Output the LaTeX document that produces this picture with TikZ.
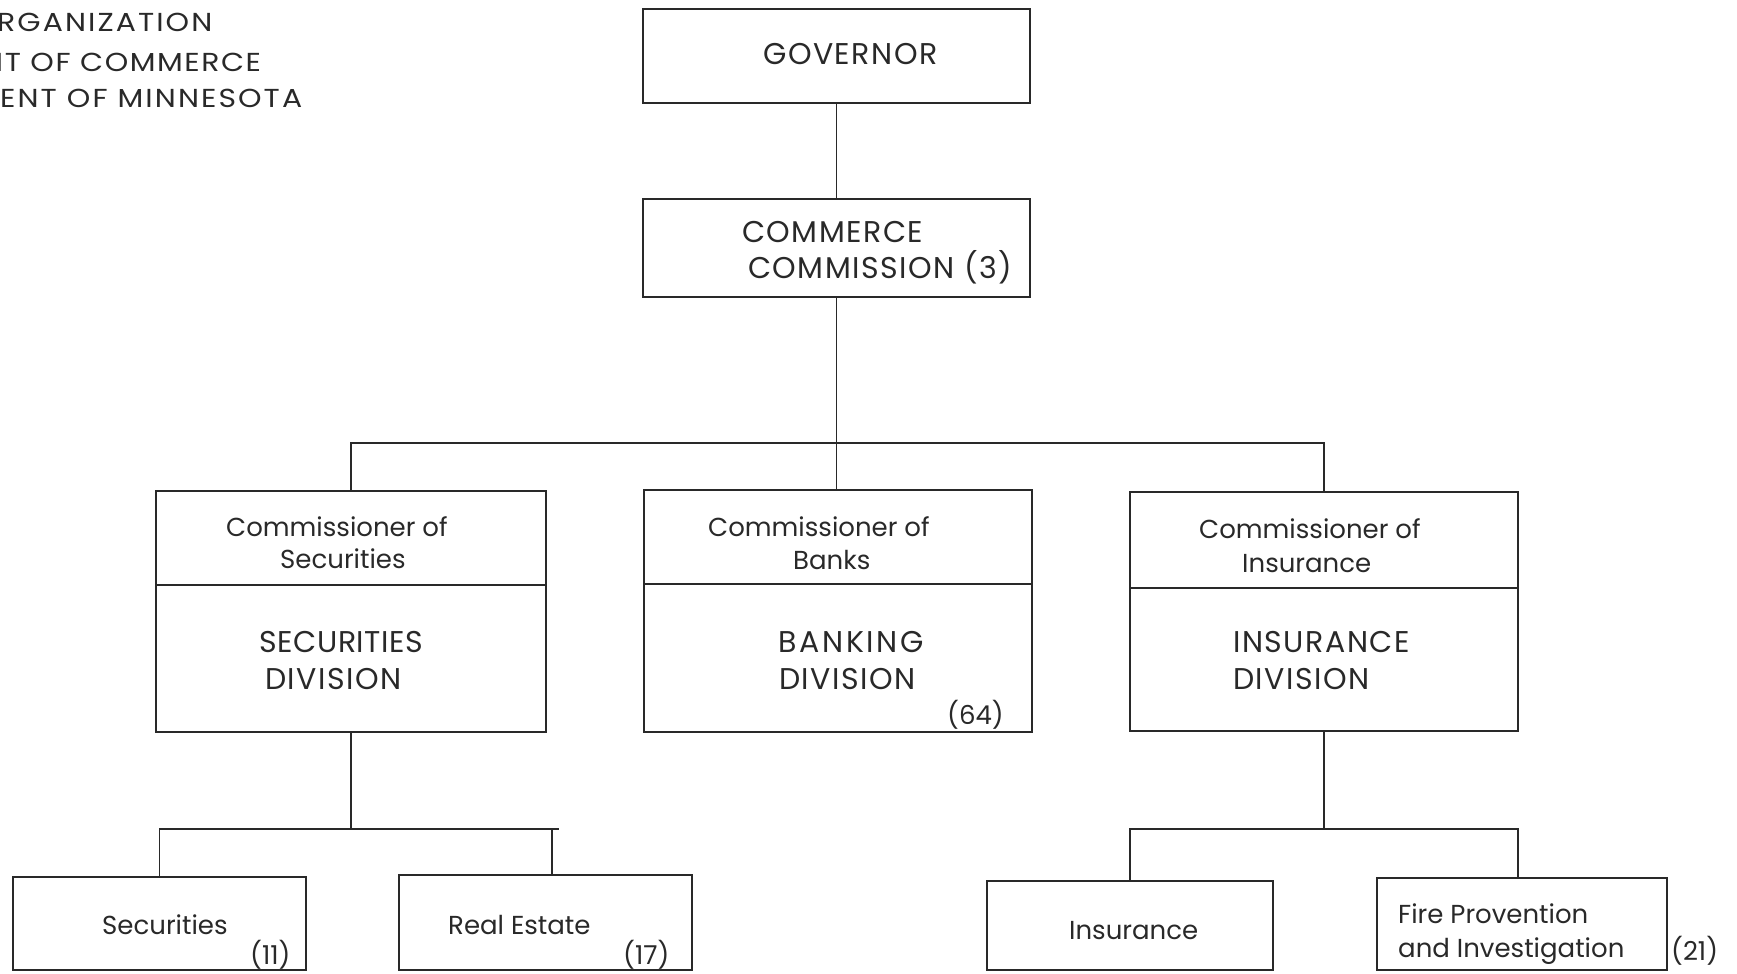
\documentclass[tikz,border=0pt]{standalone}
\usepackage{fontspec}
\setmainfont{Poppins}
\newfontfamily\capsfont{Poppins}[LetterSpace=5]
\newfontfamily\capsnarrow{Poppins}[LetterSpace=2]
\newfontfamily\capswide{Poppins}[LetterSpace=9]
\newfontfamily\headfont{Poppins}[FakeStretch=1.15,LetterSpace=8]
\newfontfamily\headtight{Poppins}[FakeStretch=1.15,LetterSpace=6]
\definecolor{ink}{gray}{0.16}
\begin{document}
\begin{tikzpicture}[x=1pt,y=-1pt,
  box/.style={draw=ink, line width=1.8pt, inner sep=0pt, outer sep=0pt, anchor=north west},
  wire/.style={draw=ink, line width=1.8pt},
  caps/.style={anchor=base west, inner sep=0pt, text=ink, font=\capsfont\fontsize{30}{36}\selectfont},
  lower/.style={anchor=base west, inner sep=0pt, text=ink, font=\fontsize{26}{31}\selectfont},
  head/.style={anchor=base west, inner sep=0pt, text=ink, font=\headfont\fontsize{26}{31}\selectfont}]
\useasboundingbox (0,0) rectangle (1737,974);
\clip (0,0) rectangle (1737,974);

% heading, cut off at the left edge of the sheet
\node[head] (h1) at (-3,32) {RGANIZATION};
\node[head, font=\headtight\fontsize{26}{31}\selectfont] (h2) at (-18,71) {NT OF COMMERCE};
\node[head] (h3) at (0,107) {ENT OF MINNESOTA};

% boxes
\node[box, minimum width=387, minimum height=94] (gov)  at (643,9) {};
\node[box, minimum width=387, minimum height=98] (comm) at (643,199) {};
\node[box, minimum width=390, minimum height=94]  (secT) at (156,491) {};
\node[box, minimum width=390, minimum height=147] (secB) at (156,585) {};
\node[box, minimum width=388, minimum height=94]  (bankT) at (644,490) {};
\node[box, minimum width=388, minimum height=148] (bankB) at (644,584) {};
\node[box, minimum width=388, minimum height=96]  (insT) at (1130,492) {};
\node[box, minimum width=388, minimum height=143] (insB) at (1130,588) {};
\node[box, minimum width=293, minimum height=93] (secS) at (13,877) {};
\node[box, minimum width=293, minimum height=95] (real) at (399,875) {};
\node[box, minimum width=286, minimum height=89] (insS) at (987,881) {};
\node[box, minimum width=290, minimum height=92] (fire) at (1377,878) {};

% texts
\node[caps] (tgov) at (763,65) {GOVERNOR};
\node[caps] (tcomm1) at (742,242) {COMMERCE};
\node[caps] (tcomm2) at (748,278) {COMMISSION (3)};

\node[lower] (ts1) at (226,536) {Commissioner of};
\node[lower] (ts2) at (280,568) {Securities};
\node[caps, font=\capsnarrow\fontsize{30}{36}\selectfont] (ts3) at (259,652) {SECURITIES};
\node[caps]  (ts4) at (265,689) {DIVISION};

\node[lower] (tb1) at (708,536) {Commissioner of};
\node[lower] (tb2) at (793,569) {Banks};
\node[caps, font=\capswide\fontsize{30}{36}\selectfont] (tb3) at (778,652) {BANKING};
\node[caps]  (tb4) at (779,689) {DIVISION};
\node[lower] (tb5) at (947,724) {(64)};

\node[lower] (ti1) at (1199,538) {Commissioner of};
\node[lower] (ti2) at (1242,572) {Insurance};
\node[caps]  (ti3) at (1233,652) {INSURANCE};
\node[caps]  (ti4) at (1233,689) {DIVISION};

\node[lower] (tss) at (102,934) {Securities};
\node[lower] (tsn) at (250,964) {(11)};
\node[lower] (tre) at (448,934) {Real Estate};
\node[lower] (trn) at (623,964) {(17)};
\node[lower] (tis) at (1069,939) {Insurance};
\node[lower] (tf1) at (1398,923) {Fire Provention};
\node[lower] (tf2) at (1398,957) {and Investigation};
\node[lower] (tfn) at (1671,960) {(21)};

% connectors
\coordinate (bus) at (0,443);
\coordinate (lowbus) at (0,829);
\coordinate (reDrop) at (552,829);
\coordinate (lowEnd) at (559,829);
\coordinate (fireDrop) at (1518,829);
\draw[wire] (gov.south) -- (comm.north);
\draw[wire] (comm.south) -- (comm.south |- bankT.north);
\draw[wire] (secT.north) -- (secT.north |- bus) -- (insT.north |- bus) -- (insT.north);
\draw[wire] (secB.south) -- (secB.south |- lowbus);
\draw[wire] (secS.north) -- (secS.north |- lowbus) -- (lowEnd);
\draw[wire] (reDrop) -- (reDrop |- real.north);
\draw[wire] (insB.south) -- (insB.south |- lowbus);
\draw[wire] (insS.north) -- (insS.north |- lowbus) -- (fireDrop) -- (fireDrop |- fire.north);
\end{tikzpicture}
\end{document}
